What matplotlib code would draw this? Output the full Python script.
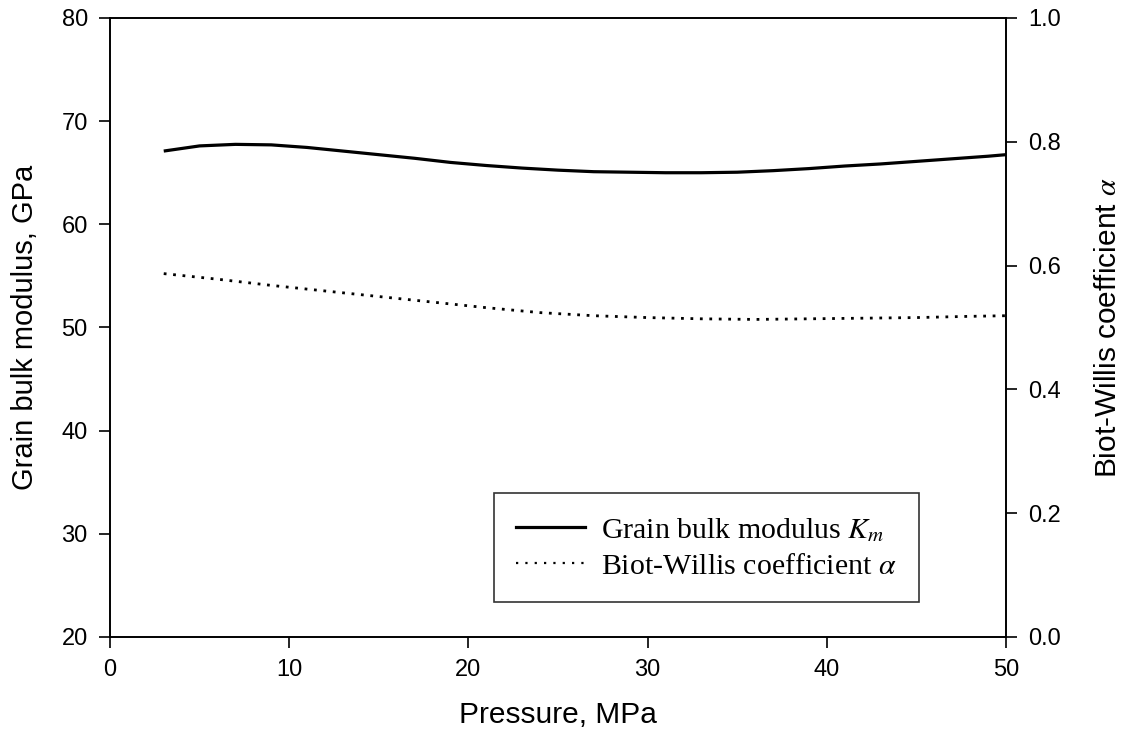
import matplotlib
matplotlib.use('Agg')
import matplotlib.pyplot as plt
from matplotlib.lines import Line2D

plt.rcParams['font.family'] = ['Liberation Sans', 'DejaVu Sans']
plt.rcParams['mathtext.fontset'] = 'stix'

# grain bulk modulus Km (GPa) vs confining pressure (MPa)
p_km = [3, 5, 7, 9, 11, 13, 15, 17, 19, 21, 23, 25, 27, 29, 31, 33, 35, 37, 39, 41, 43, 45, 47, 49, 50]
km = [67.1, 67.6, 67.75, 67.7, 67.45, 67.1, 66.75, 66.4, 66.0, 65.7, 65.45, 65.25, 65.1,
      65.05, 65.0, 65.0, 65.05, 65.2, 65.4, 65.65, 65.85, 66.1, 66.35, 66.6, 66.75]

# Biot-Willis coefficient alpha vs pressure
p_alpha = [3, 6, 9, 12, 15, 18, 21, 24, 27, 30, 33, 36, 39, 42, 45, 48, 50]
alpha = [0.587, 0.578, 0.568, 0.559, 0.55, 0.541, 0.532, 0.524, 0.519, 0.516, 0.514,
         0.513, 0.514, 0.515, 0.516, 0.518, 0.519]

fig = plt.figure(figsize=(11.28, 7.43), dpi=100)
ax = fig.add_axes([0.0975, 0.1427, 0.7943, 0.8331])
ax2 = ax.twinx()

ax.plot(p_km, km, color='black', lw=2.3, solid_capstyle='butt')
ax2.plot(p_alpha, alpha, color='black', lw=2.0, linestyle=(0, (1, 2.4)))

ax.set_xlim(0, 50)
ax.set_ylim(20, 80)
ax2.set_ylim(0, 1.0)
ax.set_xticks(range(0, 51, 10))
ax.set_yticks(range(20, 81, 10))
ax2.set_yticks([0, 0.2, 0.4, 0.6, 0.8, 1.0])
ax2.set_yticklabels(['0.0', '0.2', '0.4', '0.6', '0.8', '1.0'])

for a in (ax, ax2):
    a.tick_params(direction='out', length=8, width=1.2, labelsize=17, pad=8)
    for s in a.spines.values():
        s.set_linewidth(1.2)

ax.set_xlabel('Pressure, MPa', fontsize=21.5, labelpad=14)
ax.set_ylabel('Grain bulk modulus, GPa', fontsize=21, labelpad=16)
ax2.set_ylabel(r'Biot-Willis coefficient $\alpha$', fontsize=21.5, labelpad=24)

handles = [Line2D([], [], color='black', lw=2.3),
           Line2D([], [], color='black', lw=1.6, linestyle=(0, (1, 3.2)))]
labels = [r'Grain bulk modulus $K_m$', r'Biot-Willis coefficient $\alpha$']
leg = ax.legend(handles, labels, loc='lower left', bbox_to_anchor=(0.4286, 0.0565),
                prop={'family': 'Liberation Serif', 'size': 21.5}, frameon=True,
                fancybox=False, handlelength=2.3, handletextpad=0.55,
                borderpad=0.75, labelspacing=0.3, borderaxespad=0)
leg.get_frame().set_edgecolor('black')
leg.get_frame().set_linewidth(1.2)

fig.savefig('out.png', dpi=100)
